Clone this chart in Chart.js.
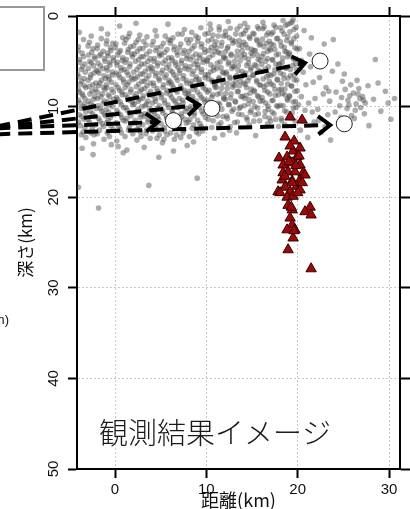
<!DOCTYPE html>
<html lang="ja">
<head>
<meta charset="UTF-8">
<title>観測結果イメージ</title>
<style>
  html, body { margin: 0; padding: 0; background: #fff; overflow: hidden; }
  #wrap { position: relative; width: 410px; height: 509px; }
  #chart { position: absolute; left: 0; top: 0; }
  .legendBox { position: absolute; left: -10px; top: 6px; width: 55px; height: 65px;
               box-sizing: border-box; border: 2px solid #999; background: #fff; }
  .cutLabel { position: absolute; left: -17px; top: 312px; font: 13px "Liberation Sans", Arial, sans-serif; color: #111; }
</style>
<script src="https://cdn.jsdelivr.net/npm/chart.js"></script>
</head>
<body>
<div id="wrap">
  <canvas id="chart" width="410" height="509"></canvas>
  <div class="legendBox"></div>
  <div class="cutLabel">(km)</div>
</div>
<script>
// 軸
const xTicks = [0, 10, 20, 30];
const depthTicks = [0, 10, 20, 30, 40, 50];
const xRange = [-4.16, 31.2];
const depthRange = [0, 50];
const xTitle = '距離(km)';
const yTitle = '深さ(km)';
const imageText = '観測結果イメージ';
const imageTextPos = [10.95, 46.0];

// 白丸
const circleX = [22.45, 25.1, 6.4, 10.6];
const circleDepth = [4.97, 11.9, 11.55, 10.2];

// 矢印 (始点 -> 先端)
const arrowFromX = [-13, -13, -13, -13];
const arrowFromDepth = [12.2, 12.3, 12.4, 13.05];
const arrowToX = [20.8, 9.2, 4.71, 23.55];
const arrowToDepth = [5.19, 9.82, 11.7, 12.03];

// 赤三角 [距離, 深さ]
const redQuakes = [
  [19.17,11.15],[20.48,11.48],[18.62,13.36],[19.61,13.8],[19.5,14.9],[20.26,14.57],[17.96,15.67],
  [18.84,15.56],[19.93,15.56],[19.39,16.2],[18.4,16.45],[20.26,16.45],[20.6,17.3],[18.95,17.2],
  [19.7,17.2],[18.3,18.1],[19.4,18.2],[20.26,18.1],[18.6,18.9],[19.9,18.8],[17.85,19.4],
  [19.17,19.4],[20.26,19.2],[18.84,20.0],[19.5,19.9],[18.95,20.9],[19.4,21.4],[21.36,21.1],
  [20.8,21.6],[21.47,21.96],[19.17,22.3],[19.4,23.07],[18.84,23.6],[19.7,23.6],[19.5,24.5],
  [18.95,25.8],[21.47,27.9],[18.4,17.3],[20.8,17.55],[19.4,18.4],[20.5,18.4],[18.07,19.5],
  [20.0,19.5],[19.3,21.1],[19.6,23.7],[19.06,16.1],[19.8,16.5],[18.6,17.7],[20.15,15.45],
  [19.17,14.35]
];

// 灰色の震源 [距離, 深さ]
const greyQuakes = [
  [-4.0,3.4],[-3.6,4.1],[-3.9,4.8],[-3.3,5.3],[-3.7,5.9],[-4.1,6.4],[-3.4,6.9],[-3.8,7.5],[-3.2,7.9],[-3.9,8.4],
  [-3.5,8.8],[-4.0,9.3],[-3.3,9.7],[-3.7,10.2],[-3.9,10.9],[-3.4,11.4],[-3.8,12.1],[-3.5,12.8],[-3.2,13.4],[-3.9,1.8],[-3.6,14.6],
  [-2.8,2.9],[-2.4,3.6],[-2.9,4.3],[-2.2,4.7],[-2.6,5.2],[-2.9,5.8],[-2.3,6.3],[-2.7,6.8],[-2.1,7.4],[-2.8,7.8],
  [-2.5,8.3],[-2.2,8.9],[-2.9,9.4],[-2.4,9.9],[-2.7,10.5],[-2.2,11.1],[-2.8,11.7],[-2.5,12.4],[-2.3,13.1],[-2.6,2.2],[-2.4,15.3],
  [-1.9,3.2],[-1.3,3.9],[-1.7,4.4],[-1.1,5.0],[-1.6,5.5],[-1.9,6.1],[-1.2,6.6],[-1.5,7.1],[-1.8,7.7],[-1.1,8.1],
  [-1.4,8.6],[-1.9,9.1],[-1.3,9.6],[-1.6,10.2],[-1.2,10.8],[-1.8,11.3],[-1.4,11.9],[-1.7,12.6],[-1.2,13.6],[-1.5,1.4],[-1.8,21.2],
  [-0.9,2.7],[-0.5,3.5],[-0.8,4.1],[-0.2,4.6],[-0.6,5.1],[-0.9,5.7],[-0.3,6.2],[-0.7,6.7],[-0.4,7.3],[-0.9,7.9],
  [-0.2,8.4],[-0.6,8.9],[-0.8,9.5],[-0.3,10.0],[-0.7,10.6],[-0.5,11.2],[-0.9,11.8],[-0.2,12.5],[-0.6,13.3],[-0.4,14.2],[-0.8,2.0],
  [0.1,3.1],[0.6,3.8],[0.3,4.3],[0.8,4.9],[0.2,5.4],[0.7,6.0],[0.4,6.5],[0.9,7.0],[0.1,7.6],[0.5,8.2],
  [0.8,8.7],[0.3,9.2],[0.7,9.8],[0.2,10.4],[0.6,10.9],[0.9,11.5],[0.4,12.2],[0.7,12.9],[0.2,13.8],[0.5,1.1],[0.9,15.1],
  [1.2,2.6],[1.7,3.4],[1.4,4.0],[1.9,4.5],[1.1,5.1],[1.6,5.6],[1.3,6.2],[1.8,6.8],[1.5,7.3],[1.1,7.9],
  [1.7,8.4],[1.4,9.0],[1.9,9.5],[1.2,10.1],[1.6,10.7],[1.3,11.3],[1.8,11.9],[1.5,12.6],[1.1,13.3],[1.6,1.9],[1.3,14.8],
  [2.3,2.9],[2.7,3.6],[2.1,4.2],[2.6,4.8],[2.9,5.3],[2.4,5.9],[2.8,6.4],[2.2,6.9],[2.6,7.5],[2.9,8.1],
  [2.3,8.6],[2.7,9.2],[2.1,9.7],[2.5,10.3],[2.9,10.9],[2.2,11.5],[2.6,12.1],[2.8,12.8],[2.4,13.7],[2.7,2.1],[2.3,0.8],
  [3.4,3.2],[3.8,3.9],[3.1,4.5],[3.6,5.0],[3.9,5.6],[3.3,6.1],[3.7,6.6],[3.2,7.2],[3.5,7.7],[3.9,8.3],
  [3.1,8.8],[3.6,9.4],[3.3,9.9],[3.8,10.5],[3.2,11.1],[3.6,11.7],[3.9,12.3],[3.4,13.0],[3.7,18.7],[3.2,14.5],[3.5,2.3],
  [4.2,2.8],[4.6,3.5],[4.9,4.1],[4.3,4.7],[4.7,5.2],[4.1,5.8],[4.5,6.3],[4.8,6.9],[4.2,7.4],[4.6,8.0],
  [4.9,8.5],[4.4,9.1],[4.1,9.6],[4.7,10.2],[4.3,10.8],[4.8,11.4],[4.5,12.0],[4.1,12.7],[4.6,13.5],[4.4,1.6],[4.8,15.6],
  [5.3,3.0],[5.7,3.7],[5.1,4.3],[5.5,4.9],[5.9,5.4],[5.2,6.0],[5.6,6.5],[5.9,7.1],[5.3,7.6],[5.7,8.2],
  [5.1,8.7],[5.4,9.3],[5.8,9.8],[5.2,10.4],[5.6,11.0],[5.9,11.6],[5.4,12.3],[5.7,13.1],[5.2,14.0],[5.5,2.2],[5.8,0.9],
  [6.1,2.7],[6.5,3.4],[6.8,4.0],[6.2,4.6],[6.6,5.1],[6.9,5.7],[6.3,6.2],[6.7,6.8],[6.1,7.3],[6.4,7.9],
  [6.8,8.4],[6.2,9.0],[6.6,9.5],[6.9,10.1],[6.3,10.7],[6.7,12.4],[6.1,12.9],[6.5,13.6],[6.9,2.0],[6.4,14.9],
  [7.2,3.1],[7.6,3.8],[7.9,4.4],[7.3,4.9],[7.7,5.5],[7.1,6.0],[7.5,6.6],[7.8,7.1],[7.2,7.7],[7.6,8.2],
  [7.9,8.8],[7.4,9.3],[7.1,9.9],[7.7,10.5],[7.3,11.1],[7.8,11.8],[7.5,12.6],[7.2,13.4],[7.6,1.5],[7.9,14.3],
  [8.3,2.6],[8.7,3.3],[8.1,3.9],[8.5,4.5],[8.9,5.0],[8.2,5.6],[8.6,6.1],[8.9,6.7],[8.4,7.2],[8.8,7.8],
  [8.1,8.3],[8.5,8.9],[8.9,9.4],[8.3,10.0],[8.7,10.7],[8.2,11.4],[8.6,12.0],[8.9,12.8],[8.4,1.8],[8.6,13.9],
  [9.1,2.4],[9.5,3.1],[9.8,3.7],[9.3,4.3],[9.7,4.8],[9.1,5.4],[9.5,5.9],[9.9,6.5],[9.2,7.0],[9.6,7.6],
  [9.9,8.1],[9.3,8.7],[9.7,9.2],[9.1,9.8],[9.5,10.5],[9.9,11.2],[9.3,11.9],[9.6,12.7],[9.0,17.9],[9.4,1.3],
  [10.2,1.9],[10.6,2.6],[10.9,3.2],[10.3,3.8],[10.7,4.3],[10.1,4.9],[10.5,5.4],[10.8,6.0],[10.2,6.5],[10.6,7.1],
  [10.9,7.6],[10.3,8.2],[10.7,8.7],[10.1,9.3],[10.5,9.9],[10.8,10.6],[10.2,11.4],[10.6,12.3],[10.4,0.9],[10.9,13.5],
  [11.3,2.2],[11.7,2.9],[11.1,3.5],[11.5,4.1],[11.9,4.6],[11.2,5.2],[11.6,5.7],[11.9,6.3],[11.4,6.8],[11.8,7.4],
  [11.1,7.9],[11.5,8.5],[11.9,9.0],[11.3,9.6],[11.7,10.3],[11.2,11.0],[11.6,11.8],[11.4,1.2],[11.8,13.1],
  [12.1,1.7],[12.5,2.4],[12.9,3.0],[12.3,3.6],[12.7,4.2],[12.1,4.7],[12.4,5.3],[12.8,5.8],[12.2,6.4],[12.6,6.9],
  [12.9,7.5],[12.3,8.0],[12.7,8.6],[12.1,9.2],[12.5,9.8],[12.8,10.5],[12.3,11.3],[12.6,12.2],[12.4,0.6],
  [13.2,2.0],[13.6,2.7],[13.9,3.3],[13.4,3.9],[13.8,4.4],[13.1,5.0],[13.5,5.5],[13.9,6.1],[13.3,6.6],[13.7,7.2],
  [13.1,7.7],[13.5,8.3],[13.8,8.9],[13.2,9.5],[13.6,10.2],[13.9,10.9],[13.4,11.7],[13.7,1.1],[13.3,12.9],
  [14.3,1.6],[14.7,2.3],[14.1,2.9],[14.5,3.5],[14.9,4.1],[14.2,4.6],[14.6,5.2],[14.9,5.7],[14.3,6.3],[14.7,6.8],
  [14.1,7.4],[14.4,7.9],[14.8,8.5],[14.2,9.1],[14.6,9.7],[14.9,10.4],[14.4,11.2],[14.7,12.0],[14.2,0.8],
  [15.1,1.9],[15.5,2.6],[15.8,3.2],[15.2,3.8],[15.6,4.3],[15.9,4.9],[15.3,5.4],[15.7,6.0],[15.1,6.5],[15.5,7.1],
  [15.8,7.6],[15.2,8.2],[15.6,8.8],[15.9,9.4],[15.3,10.0],[15.7,10.8],[15.2,11.6],[15.6,1.2],[15.4,13.2],
  [16.2,1.4],[16.6,2.1],[16.9,2.8],[16.3,3.4],[16.7,3.9],[16.1,4.5],[16.5,5.0],[16.8,5.6],[16.2,6.1],[16.6,6.7],
  [16.9,7.2],[16.3,7.8],[16.7,8.4],[16.1,9.0],[16.5,9.6],[16.8,10.3],[16.4,11.1],[16.7,11.9],[16.2,0.7],
  [17.3,1.8],[17.7,2.5],[17.1,3.1],[17.5,3.7],[17.9,4.2],[17.2,4.8],[17.6,5.3],[17.9,5.9],[17.4,6.4],[17.8,7.0],
  [17.1,7.5],[17.5,8.1],[17.9,8.7],[17.3,9.3],[17.7,9.9],[17.2,10.6],[17.6,11.4],[17.9,12.2],[17.4,1.0],
  [18.1,1.3],[18.5,2.0],[18.8,2.7],[18.2,3.3],[18.6,3.9],[18.9,4.5],[18.3,5.1],[18.7,5.7],[18.1,6.3],[18.5,6.9],
  [18.9,7.5],[18.2,8.1],[18.6,8.7],[18.9,9.3],[18.4,9.9],[18.8,10.6],[18.2,11.3],[18.6,12.0],[18.4,0.5],[18.9,0.9],
  [19.2,0.8],[19.6,1.5],[19.9,2.2],[19.3,2.9],[19.7,3.5],[19.1,4.1],[19.5,4.7],[19.8,5.3],[19.2,5.9],[19.6,6.5],
  [19.9,7.1],[19.3,7.7],[19.7,8.3],[19.1,8.9],[19.5,9.5],[19.8,10.1],[19.4,10.7],[19.7,11.6],[19.5,0.4],
  [20.2,3.6],[20.6,6.2],[20.4,8.9],[20.8,10.4],[20.3,12.6],[20.7,1.6],[20.1,9.8],
  [21.3,4.2],[21.7,7.3],[21.2,9.6],[21.8,11.7],[21.5,2.4],[21.1,13.4],
  [22.4,6.8],[22.8,8.6],[22.2,10.3],[22.6,12.8],[22.9,3.1],
  [23.1,7.9],[23.5,9.4],[23.8,6.1],[23.3,10.9],[23.6,13.7],[23.9,2.6],
  [24.2,8.4],[24.6,9.9],[24.9,7.2],[24.4,5.3],[24.7,11.2],
  [25.2,8.1],[25.5,9.3],[25.8,7.6],[25.4,10.2],[25.7,8.8],[25.1,6.4],[25.9,11.0],
  [26.1,8.5],[26.4,9.7],[26.7,8.0],[26.3,10.4],[26.8,9.1],[26.5,7.1],[26.2,11.3],
  [27.1,8.9],[27.4,9.6],[27.7,7.7],[27.3,10.8],[27.8,12.1],
  [28.3,9.2],[28.8,7.4],[29.1,10.5],[29.6,8.3],[30.2,11.4],[30.6,9.1],[28.5,4.8],
  [-4.0,18.9],
  // 密集部の続き
  [-4.05,3.8],[-3.45,4.5],[-3.85,5.1],[-3.55,5.6],[-3.25,6.2],[-3.95,6.7],[-3.65,7.2],[-3.35,7.7],[-4.0,8.1],[-3.6,8.6],
  [-3.3,9.1],[-3.85,9.6],[-3.45,10.0],[-3.2,10.6],[-3.65,11.1],[-4.0,11.7],[-3.3,12.3],[-3.7,13.1],[-3.45,2.6],
  [-2.95,3.3],[-2.55,4.0],[-2.25,4.5],[-2.75,5.0],[-2.35,5.5],[-2.05,6.0],[-2.65,6.5],[-2.95,7.1],[-2.45,7.6],[-2.15,8.1],
  [-2.75,8.6],[-2.35,9.2],[-2.65,9.7],[-2.05,10.2],[-2.45,10.8],[-2.95,11.4],[-2.15,12.0],[-2.65,12.9],[-2.35,14.1],
  [-1.95,3.6],[-1.55,4.2],[-1.15,4.7],[-1.85,5.2],[-1.35,5.8],[-1.75,6.3],[-1.05,6.9],[-1.65,7.4],[-1.25,7.9],[-1.95,8.4],
  [-1.55,8.9],[-1.15,9.4],[-1.85,9.9],[-1.45,10.5],[-1.05,11.0],[-1.65,11.6],[-1.25,12.2],[-1.95,13.0],[-1.5,2.5],
  [-0.95,3.1],[-0.45,3.8],[-0.75,4.4],[-0.15,4.9],[-0.55,5.4],[-0.85,6.0],[-0.25,6.5],[-0.65,7.0],[-0.95,7.6],[-0.35,8.1],
  [-0.75,8.7],[-0.15,9.2],[-0.55,9.8],[-0.95,10.3],[-0.35,10.9],[-0.75,11.5],[-0.45,12.1],[-0.85,12.9],[-0.25,3.0],
  [0.05,3.5],[0.45,4.0],[0.85,4.6],[0.25,5.1],[0.65,5.7],[0.15,6.3],[0.55,6.8],[0.95,7.3],[0.35,7.9],[0.75,8.4],
  [0.15,9.0],[0.55,9.5],[0.95,10.1],[0.35,10.7],[0.75,11.2],[0.15,11.8],[0.55,12.5],[0.85,2.4],[0.35,14.4],
  [1.05,3.0],[1.45,3.7],[1.85,4.2],[1.25,4.8],[1.65,5.3],[1.05,5.9],[1.45,6.5],[1.95,7.0],[1.35,7.6],[1.75,8.1],
  [1.15,8.7],[1.55,9.3],[1.95,9.8],[1.35,10.4],[1.75,11.0],[1.15,11.6],[1.55,12.3],[1.95,13.0],[1.45,2.3],
  [2.05,3.3],[2.45,3.9],[2.85,4.5],[2.25,5.0],[2.65,5.6],[2.05,6.2],[2.45,6.7],[2.95,7.2],[2.35,7.8],[2.75,8.3],
  [2.15,8.9],[2.55,9.4],[2.95,10.0],[2.35,10.6],[2.75,11.2],[2.15,11.8],[2.45,12.5],[2.85,13.3],[2.55,2.6],
  [3.05,3.6],[3.45,4.2],[3.85,4.7],[3.25,5.3],[3.65,5.8],[3.05,6.4],[3.45,6.9],[3.85,7.4],[3.25,8.0],[3.65,8.6],
  [3.05,9.1],[3.45,9.7],[3.85,10.2],[3.25,10.8],[3.65,11.4],[3.05,12.0],[3.45,12.6],[3.85,13.5],[3.15,2.8],
  [4.05,3.2],[4.45,3.8],[4.85,4.4],[4.25,5.0],[4.65,5.5],[4.05,6.1],[4.45,6.6],[4.85,7.1],[4.25,7.7],[4.65,8.3],
  [4.05,8.8],[4.45,9.4],[4.85,9.9],[4.25,10.5],[4.65,11.1],[4.05,11.7],[4.45,12.4],[4.85,13.1],[4.55,2.2],
  [5.05,3.4],[5.45,4.0],[5.85,4.6],[5.25,5.2],[5.65,5.7],[5.05,6.3],[5.45,6.8],[5.85,7.4],[5.25,7.9],[5.65,8.5],
  [5.05,9.0],[5.45,9.6],[5.85,10.1],[5.25,10.7],[5.65,11.3],[5.05,11.9],[5.45,12.7],[5.85,2.6],[5.35,13.6],
  [6.05,3.0],[6.45,3.7],[6.85,4.3],[6.25,4.9],[6.65,5.4],[6.05,6.0],[6.45,6.5],[6.85,7.1],[6.25,7.6],[6.65,8.2],
  [6.05,8.7],[6.45,9.3],[6.85,9.8],[6.25,10.4],[6.65,11.0],[6.05,11.6],[6.85,12.1],[6.35,2.4],[6.75,13.1],
  [7.05,3.5],[7.45,4.1],[7.85,4.7],[7.25,5.2],[7.65,5.8],[7.05,6.3],[7.45,6.9],[7.85,7.4],[7.25,8.0],[7.65,8.5],
  [7.05,9.1],[7.45,9.6],[7.85,10.2],[7.25,10.8],[7.65,11.4],[7.05,12.0],[7.45,12.9],[7.85,2.6],[7.35,2.0],
  [8.05,3.0],[8.45,3.6],[8.85,4.2],[8.25,4.8],[8.65,5.3],[8.05,5.9],[8.45,6.4],[8.85,7.0],[8.25,7.5],[8.65,8.1],
  [8.05,8.6],[8.45,9.2],[8.85,9.7],[8.25,10.3],[8.65,11.0],[8.05,11.7],[8.45,12.4],[8.85,2.2],[8.15,13.3],
  [9.05,2.8],[9.45,3.4],[9.85,4.0],[9.25,4.6],[9.65,5.1],[9.05,5.7],[9.45,6.2],[9.85,6.8],[9.25,7.3],[9.65,7.9],
  [9.05,8.4],[9.45,9.0],[9.85,9.5],[9.25,10.1],[9.65,10.8],[9.05,11.5],[9.45,12.2],[9.85,2.0],[9.15,13.0],
  [10.72,2.1],[10.18,2.75],[10.55,3.45],[10.91,3.9],[10.33,4.55],[10.08,5.0],[10.81,5.65],[10.44,6.15],[10.27,6.95],
  [10.66,7.25],[10.95,7.85],[10.12,8.4],[10.59,8.95],[10.38,9.55],[10.86,10.05],[10.21,10.75],[10.74,11.55],[10.49,1.45],
  [11.41,1.55],[11.88,2.2],[11.07,2.85],[11.63,3.3],[11.29,4.0],[11.94,4.5],[11.52,5.05],[11.16,5.8],[11.77,6.2],
  [11.36,6.95],[11.03,7.35],[11.69,7.95],[11.22,8.65],[11.91,9.15],[11.47,9.75],[11.11,10.45],[11.82,11.1],[11.33,12.0],
  [12.62,1.35],[12.14,2.15],[12.83,2.65],[12.37,3.4],[12.06,3.95],[12.71,4.35],[12.49,5.1],[12.92,5.55],[12.19,6.2],
  [12.58,6.75],[12.31,7.45],[12.88,7.85],[12.11,8.55],[12.66,9.05],[12.43,9.75],[12.97,10.3],[12.24,11.05],[12.54,12.6],
  [13.36,1.45],[13.81,2.05],[13.12,2.8],[13.57,3.2],[13.93,3.85],[13.28,4.45],[13.69,4.95],[13.04,5.6],[13.47,6.05],
  [13.88,6.7],[13.21,7.2],[13.62,7.7],[13.39,8.35],[13.96,8.85],[13.14,9.4],[13.73,10.05],[13.51,10.85],[13.09,11.75],
  [14.52,1.25],[14.09,1.95],[14.77,2.45],[14.31,3.15],[14.94,3.65],[14.18,4.25],[14.63,4.75],[14.42,5.45],[14.86,5.95],
  [14.07,6.45],[14.55,7.15],[14.26,7.55],[14.91,8.05],[14.36,8.75],[14.69,9.25],[14.13,9.9],[14.81,10.65],[14.47,11.45],
  [15.74,1.4],[15.22,2.0],[15.58,2.75],[15.93,3.1],[15.37,3.8],[15.08,4.35],[15.67,4.8],[15.45,5.5],[15.86,6.1],
  [15.16,6.55],[15.53,7.25],[15.95,7.65],[15.29,8.35],[15.71,8.9],[15.12,9.45],[15.61,10.15],[15.34,10.9],[15.82,11.55],
  [16.33,1.2],[16.78,1.85],[16.14,2.55],[16.56,3.0],[16.91,3.6],[16.27,4.15],[16.69,4.7],[16.06,5.35],[16.47,5.85],
  [16.84,6.5],[16.22,6.95],[16.61,7.6],[16.39,8.2],[16.95,8.6],[16.17,9.35],[16.73,9.95],[16.44,10.55],[16.88,11.25],
  [17.58,1.25],[17.13,2.0],[17.81,2.45],[17.37,3.2],[17.04,3.75],[17.66,4.3],[17.27,4.85],[17.92,5.4],[17.49,5.95],
  [17.09,6.55],[17.74,7.05],[17.33,7.65],[17.97,8.15],[17.55,8.75],[17.18,9.35],[17.84,10.0],[17.41,10.8],[17.06,11.6],
  [18.67,1.05],[18.29,1.65],[18.91,2.3],[18.12,2.85],[18.53,3.45],[18.79,3.95],[18.36,4.65],[18.04,5.25],[18.72,5.75],
  [18.44,6.45],[18.95,6.85],[18.19,7.45],[18.61,8.05],[18.33,8.55],[18.86,9.15],[18.08,9.85],[18.57,10.45],[18.26,11.55],
  [19.39,0.65],[19.82,1.25],[19.14,1.75],[19.58,2.5],[19.31,3.05],[19.93,3.65],[19.07,4.25],[19.69,4.8],[19.46,5.45],
  [19.88,5.95],[19.21,6.6],[19.63,7.05],[19.35,7.75],[19.96,8.25],[19.11,8.8],[19.74,9.45],[19.52,10.15],[19.27,11.25],
  [20.4,4.9],[20.9,7.6],[21.4,5.6],[21.9,9.1],[22.3,11.5],[22.7,5.1],[23.4,8.3],[24.1,10.6],[25.6,9.8],[26.6,8.6],
  [27.2,9.3],[26.9,10.1],[24.8,9.0],[21.6,10.6],[20.5,11.6],[23.0,12.2],[29.9,9.6]
];

const tickFont = { family: '"Liberation Sans", Arial, sans-serif', size: 15 };
const jpFont = '"Noto Sans CJK JP", sans-serif';

// 矢印の先端 (>)
const arrowHeads = {
  id: 'arrowHeads',
  afterDatasetsDraw(chart) {
    const ctx = chart.ctx;
    chart.data.datasets.forEach((ds, i) => {
      if (!ds.isArrow) return;
      const pts = chart.getDatasetMeta(i).data;
      const a = pts[pts.length - 2], b = pts[pts.length - 1];
      const ang = Math.atan2(b.y - a.y, b.x - a.x);
      const len = 15, spread = 0.65;
      ctx.save();
      ctx.strokeStyle = '#000';
      ctx.lineWidth = 4;
      ctx.beginPath();
      ctx.moveTo(b.x - len * Math.cos(ang - spread), b.y - len * Math.sin(ang - spread));
      ctx.lineTo(b.x, b.y);
      ctx.lineTo(b.x - len * Math.cos(ang + spread), b.y - len * Math.sin(ang + spread));
      ctx.stroke();
      ctx.restore();
    });
  }
};

// 「観測結果イメージ」
const imageLabel = {
  id: 'imageLabel',
  afterDatasetsDraw(chart) {
    const { ctx, scales } = chart;
    ctx.save();
    ctx.font = '300 29px ' + jpFont;
    ctx.fillStyle = '#1a1a1a';
    ctx.textAlign = 'center';
    ctx.textBaseline = 'middle';
    ctx.fillText(imageText, scales.x.getPixelForValue(imageTextPos[0]), scales.y.getPixelForValue(imageTextPos[1]));
    ctx.restore();
  }
};

const arrowSets = arrowFromX.map((fx, i) => ({
  type: 'line',
  isArrow: true,
  data: [{ x: fx, y: arrowFromDepth[i] }, { x: arrowToX[i], y: arrowToDepth[i] }],
  borderColor: '#000',
  borderWidth: 4,
  borderDash: [14, 8],
  pointRadius: 0,
  showLine: true,
  fill: false,
  clip: false,
  order: 2
}));

const gridOpts = { color: '#c8c8c8', lineWidth: 1, tickColor: '#000', tickWidth: 2, tickLength: 9, drawTicks: true };
const setTicks = list => scale => { scale.ticks = list.map(v => ({ value: v })); };
const hiddenLabels = { display: true, color: 'rgba(0,0,0,0)', font: tickFont, autoSkip: false };

new Chart(document.getElementById('chart'), {
  type: 'scatter',
  data: {
    datasets: [
      ...arrowSets,
      {
        data: circleX.map((x, i) => ({ x, y: circleDepth[i] })),
        pointRadius: 8,
        backgroundColor: '#fff',
        borderColor: '#222',
        borderWidth: 1,
        order: 1
      },
      {
        data: redQuakes.map(([x, y]) => ({ x, y })),
        pointStyle: 'triangle',
        pointRadius: 6,
        backgroundColor: '#9a0a0a',
        borderColor: '#3a0000',
        borderWidth: 1,
        order: 4
      },
      {
        data: greyQuakes.map(([x, y]) => ({ x, y })),
        pointRadius: 2.8,
        backgroundColor: 'rgba(70,70,70,0.45)',
        borderWidth: 0,
        order: 5
      }
    ]
  },
  options: {
    responsive: false,
    animation: false,
    layout: { padding: 0 },
    plugins: { legend: { display: false }, tooltip: { enabled: false } },
    scales: {
      x: {
        type: 'linear', position: 'bottom', min: xRange[0], max: xRange[1],
        afterBuildTicks: setTicks(xTicks),
        afterFit: s => { s.height = 40; },
        grid: gridOpts,
        border: { color: '#000', width: 2, dash: [2, 2] },
        ticks: { font: tickFont, color: '#111', padding: 3, maxRotation: 0, autoSkip: false },
        title: { display: true, text: xTitle, color: '#111', font: { family: jpFont, size: 18, lineHeight: 1 }, padding: 0 }
      },
      x2: {
        type: 'linear', position: 'top', display: true, min: xRange[0], max: xRange[1],
        afterBuildTicks: setTicks(xTicks),
        afterFit: s => { s.height = 16; },
        grid: { ...gridOpts, drawOnChartArea: false },
        border: { color: '#000', width: 2 },
        ticks: hiddenLabels
      },
      y: {
        type: 'linear', position: 'left', reverse: true, min: depthRange[0], max: depthRange[1],
        afterBuildTicks: setTicks(depthTicks),
        afterFit: s => { s.width = 77; },
        grid: gridOpts,
        border: { color: '#000', width: 2, dash: [2, 2] },
        ticks: { font: tickFont, color: '#111', padding: 6, minRotation: 90, maxRotation: 90, crossAlign: 'center', autoSkip: false },
        title: { display: true, text: yTitle, color: '#111', font: { family: jpFont, size: 17, lineHeight: 1 }, padding: { top: 17, bottom: 0 } }
      },
      y2: {
        type: 'linear', position: 'right', display: true, reverse: true, min: depthRange[0], max: depthRange[1],
        afterBuildTicks: setTicks(depthTicks),
        afterFit: s => { s.width = 10; },
        grid: { ...gridOpts, tickLength: 10, drawOnChartArea: false },
        border: { color: '#000', width: 2 },
        ticks: { display: false }
      }
    }
  },
  plugins: [arrowHeads, imageLabel]
});
</script>
</body>
</html>
